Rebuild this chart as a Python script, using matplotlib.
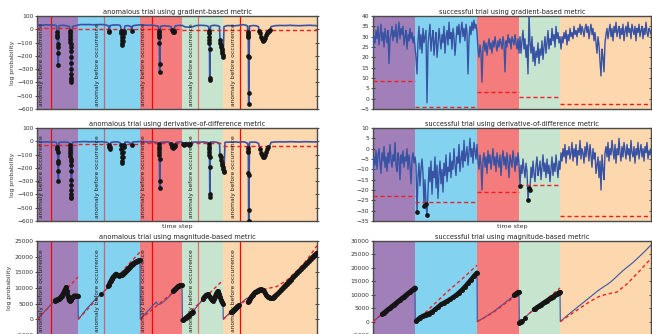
import numpy as np
import matplotlib
matplotlib.use('Agg')
import matplotlib.pyplot as plt
import matplotlib.transforms as mtransforms

# segment edges (time steps) and colours
edges_anom = [0, 41, 103, 145, 186, 280]
edges_succ = [0, 42, 104, 146, 187, 278]
seg_colors = ['#A17FB8', '#83D3F0', '#F47C7C', '#C7E4CF', '#FDD7AE']

# anomaly occurrence lines and label positions (anomalous trial)
occ_x = [14, 67, 115, 161, 203]
occ_alpha = [1.0, 0.5, 1.0, 0.5, 1.0]
label_x = [5, 60, 107, 154, 196]

# ---- anomalous trial, gradient-based metric ----
grad_anom = [
    (0, 30), (3, 33), (6, 31), (9, 34), (12, 32), (15, 33), (18, 30), (19.5, 28),
    (20, -20), (20.2, -40), (20.4, -60), (20.6, -110), (20.8, -130), (21, -180), (21.2, -270),
    (22, 27), (25, 30), (28, 29), (31, 24), (32.5, 20),
    (33, -10), (33.1, -30), (33.2, -50), (33.3, -70), (33.4, -95), (33.5, -110), (33.6, -135),
    (33.7, -165), (33.8, -205), (33.9, -250), (34, -300), (34.1, -335), (34.2, -365), (34.3, -385), (34.4, -400),
    (35.5, 22), (38, 26), (41, 32),
    (44, 36), (48, 35), (52, 36), (56, 34), (60, 35), (64, 36), (67, 35), (70, 30), (71.5, 25),
    (72, -15), (72.3, -20),
    (73, 28), (76, 32), (80, 33), (83, 30), (83.8, 20),
    (84, -10), (84.3, -30), (84.5, -55), (84.7, -80), (84.9, -105), (85.1, -120), (85.5, -90),
    (86, -60), (86.5, -30), (87, -15),
    (88, 25), (91, 28), (94, 20), (94.7, -10), (95.5, 25), (98, 30), (101, 32), (103, 33),
    (106, 33), (110, 30), (114, 31), (118, 28), (121, 25),
    (122, -10), (122.1, -25), (122.2, -40), (122.3, -60), (122.4, -100), (122.5, -260), (122.6, -320),
    (123.5, 22), (127, 27), (131, 24), (134, 20),
    (135, -5), (135.5, -15), (136, -22), (136.5, -20), (137, -10),
    (138, 25), (141, 28), (145, 30),
    (148, 18), (152, 16), (156, 20), (159, 28), (163, 30), (167, 29), (170, 26), (171.5, 20),
    (172, -10), (172.1, -30), (172.2, -55), (172.3, -80), (172.4, -100), (172.5, -150), (172.6, -370), (172.7, -385),
    (173.5, 25), (177, 30), (180, 28), (182.5, 22),
    (183, -80), (183.4, -100), (183.8, -120), (184.2, -135), (184.6, -150), (185, -165), (185.4, -180),
    (185.8, -195), (186.2, -205),
    (187, 20), (190, 28), (194, 27), (198, 26), (202, 30), (206, 35), (209, 30), (210.5, 25),
    (211, -20), (211.1, -35), (211.2, -50), (211.3, -60), (211.4, -200), (211.5, -210), (211.6, -480), (211.7, -560),
    (212.5, 25), (216, 28), (219, 27), (221.5, 20),
    (222, -10), (223, -30), (224, -55), (225, -75), (226, -85), (227, -80), (228, -65), (229, -45),
    (230, -30), (231, -20), (232, -12), (233, -8),
    (234, 20), (238, 27), (243, 29), (248, 28), (253, 30), (258, 28), (263, 27), (268, 29), (273, 30),
    (277, 28), (280, 27),
]
grad_anom_thr = [8, 2, 0, -2, -6]

# ---- anomalous trial, derivative-of-difference metric ----
deriv_anom = [
    (0, -5), (3, -3), (6, -6), (9, -4), (12, -5), (15, -7), (18, -6), (19.5, -10),
    (20, -25), (20.2, -40), (20.4, -60), (20.6, -80), (20.8, -150), (21, -160), (21.2, -220), (21.4, -300),
    (22, -8), (25, -6), (28, -5), (31, -8), (32.5, -15),
    (33, -30), (33.1, -50), (33.2, -70), (33.3, -90), (33.4, -110), (33.5, -130), (33.6, -150), (33.7, -180),
    (33.8, -220), (33.9, -290), (34, -330), (34.1, -370), (34.2, -400), (34.3, -420), (34.4, -430),
    (35.5, -8), (38, -6), (41, -4),
    (44, -3), (48, -2), (52, -4), (56, -3), (60, -5), (64, -3), (67, -4), (70, -8), (71.5, -15),
    (72, -30), (72.4, -45), (72.8, -55), (73.2, -40),
    (74, -8), (77, -5), (80, -4), (83, -10),
    (84, -30), (84.3, -60), (84.5, -90), (84.7, -120), (84.9, -145), (85.1, -160), (85.5, -120),
    (86, -80), (86.5, -45), (87, -30),
    (88, -6), (91, -5), (93.5, -15), (94.5, -25), (95.5, -6), (98, -4), (101, -3), (103, -2),
    (106, -3), (110, -5), (114, -4), (118, -6), (121, -12),
    (122, -20), (122.1, -40), (122.2, -60), (122.3, -80), (122.4, -100), (122.5, -130), (122.6, -300), (122.7, -350),
    (123.5, -8), (127, -6), (131, -5), (133, -10),
    (134, -20), (134.7, -35), (135.4, -45), (136.1, -50), (136.8, -45), (137.5, -35), (138.2, -25),
    (139.5, -8), (142, -5), (145, -6),
    (146, -20), (147, -25), (148, -22), (149.5, -8), (151, -20), (152, -25), (153, -18), (154.5, -8),
    (158, -6), (162, -7), (166, -5), (170, -8), (171.5, -12),
    (172, -20), (172.1, -40), (172.2, -60), (172.3, -80), (172.4, -100), (172.5, -120), (172.6, -190),
    (172.7, -400), (172.8, -420),
    (173.5, -6), (177, -5), (180, -8), (182.5, -15),
    (183, -100), (183.5, -120), (184, -140), (184.5, -160), (185, -175), (185.5, -190), (186, -205),
    (186.5, -220), (187, -230),
    (188, -8), (191, -6), (195, -7), (199, -5), (202, -8), (205, -4), (208, -6), (210.5, -15),
    (211, -30), (211.1, -50), (211.2, -70), (211.3, -80), (211.4, -240), (211.5, -250), (211.6, -520), (211.7, -600),
    (212.5, -8), (216, -6), (219, -7), (221.5, -15),
    (222, -30), (223, -60), (224, -85), (225, -105), (226, -118), (227, -115), (228, -100), (229, -80),
    (230, -60), (231, -45), (232, -35), (233, -30),
    (234, -8), (238, -5), (243, -4), (248, -5), (253, -3), (258, -4), (263, -5), (268, -3), (273, -4),
    (277, -5), (280, -4),
]
deriv_anom_thr = [-25, -20, -15, -15, -35]

# ---- anomalous trial, magnitude-based metric ----
mag_anom = [
    (0, 0), (6, 2000), (12, 4000), (17, 5800),
    (18, 6000), (19, 6200), (20, 6300), (21, 6500), (22, 6400), (23, 6800), (24, 7200), (25, 7600),
    (26, 8200), (27, 8800), (28, 9500), (29, 10200), (30, 9000), (31, 7500), (32, 6200), (33, 5800),
    (34, 6200), (35, 6800), (36, 7200), (37, 7500), (38, 7600), (39, 7400), (40, 7500), (41, 7500),
    (41.3, 0), (45, 1500), (50, 3500), (55, 5200), (60, 7000), (64, 8000), (66, 8600), (69, 9500),
    (71, 10500), (72, 11000), (73, 11800), (74, 12300), (75, 13000), (76, 13500), (77, 13800), (78, 14200),
    (79, 14500), (80, 14300), (81, 14000), (82, 13800), (83, 14000), (84, 14200), (85, 14300), (86, 14500),
    (87, 14800), (88, 15200), (89, 15500), (90, 15800), (91, 16200), (92, 16500), (93, 16800), (94, 17200),
    (95, 17500), (96, 17800), (97, 18000), (98, 18200), (99, 18400), (100, 18500), (101, 18700),
    (102, 18800), (103, 18900),
    (103.3, 0), (108, 1700), (113, 3400), (119, 5500), (121, 4700), (124, 5000), (128, 6000), (132, 7200),
    (135, 8200), (136, 9000), (137, 9300), (138, 9600), (139, 9900), (140, 10200), (141, 10500),
    (142, 10700), (143, 10800), (144, 10900), (145, 10900),
    (145.5, -300), (147, 0), (148.5, 400), (150, 800), (151.5, 1200), (153, 1600), (154.5, 2000), (156, 2400),
    (158, 3300), (161, 4500), (164, 5600),
    (166, 6500), (167, 7000), (168, 7400), (169, 7700), (170, 7900), (171, 8000), (172, 7600), (173, 7000),
    (174, 6500), (175, 6100), (176, 6000), (177, 6500), (178, 7200), (179, 8000), (180, 8600), (181, 9000),
    (182, 8200), (183, 7200), (184, 6200), (185, 5400), (186, 5000),
    (186.3, 0), (188, 600), (191, 1500), (193, 2000),
    (194, 2200), (195, 2500), (196, 2800), (197, 3100), (198, 3400), (199, 3700), (200, 4000), (201, 4300),
    (202, 4500), (204, 5200), (207, 6000), (209, 6500), (210, 6800),
    (211, 5500), (212, 6000), (213, 6600), (214, 7100), (215, 7500), (216, 7900), (217, 8300), (218, 8600),
    (219, 8800), (220, 9000), (221, 9200), (222, 9400), (223, 9500), (224, 9600), (225, 9500), (226, 9300),
    (227, 8900), (228, 8400), (229, 7900), (230, 7500), (231, 7200), (232, 7000), (233, 6800), (234, 6700),
    (235, 6700), (236, 6900), (237, 7200), (238, 7500), (240, 8000), (242, 8600), (244, 9300), (246, 10000),
    (248, 10700), (250, 11400), (252, 12000), (254, 12700), (256, 13400), (258, 14000), (260, 14700),
    (262, 15300), (264, 16000), (266, 16600), (268, 17300), (270, 17900), (272, 18600), (274, 19300),
    (276, 20000), (278, 20600), (280, 21200),
]
mag_anom_spans = [(18, 41), (64, 64), (71, 103), (136, 145), (145.5, 156), (166, 186), (194, 202), (211, 280)]
mag_anom_thr = [
    [(0, 0), (41, 13500)],
    [(41.3, 0), (103, 21500)],
    [(103.3, 0), (145, 11000)],
    [(145.5, 0), (186, 12500)],
    [(186.3, 0), (193, 2000), (210, 6500), (226, 9500), (240, 10500), (250, 12500), (260, 15500),
     (270, 19000), (280, 23500)],
]

# ---- successful trial, gradient-based metric (one value per time step) ----
succ_step = np.arange(279)
grad_succ = (
    [22, 30, 27, 33, 29, 35, 26, 31, 36, 28, 32, 25, 34, 30, 27, 33, 17, 29, 31, 35, 28, 33, 30, 36,
     27, 32, 37, 29, 34, 31, 35, 26, 30, 33, 24, 31, 28, 34, 29, 32, 27, 30, 25]
    + [20, 12, 28, 35, 24, 31, 22, 34, 27, 30, 33, -2, 26, 31, 36, 23, 29, 33, 21, 28, 32, 20, 26, 34,
       29, 24, 31, 27, 35, 22, 30, 33, 26, 37, 29, 32, 24, 34, 30, 21, 28, 35, 31, 36, 27, 33, 37, 30,
       34, 28, 36, 32, 12, 29, 35, 31, 37, 33, 38, 34, 36, 32]
    + [24, 20, 26, 22, 8, 25, 28, 23, 27, 21, 26, 29, 24, 27, 22, 28, 25, 30, 26, 23, 28, 25, 29, 27,
       24, 30, 26, 13, 28, 25, 31, 27, 29, 24, 30, 28, 26, 31, 27, 24, 29, 22]
    + [30, 22, 28, 33, 24, 29, 20, 26, 12, 41, 27, 22, 30, 18, 25, 16, 23, 20, 27, 17, 24, 21, 28, 19,
       25, 30, 22, 27, 33, 24, 29, 26, 34, 28, 31, 25, 35, 29, 32, 27, 30]
    + [24, 30, 27, 32, 29, 33, 26, 31, 28, 34, 30, 32, 29, 35, 31, 33, 30, 34, 32, 36, 31, 35, 33, 30,
       34, 36, 32, 35, 29, 33, 36, 31, 34, 28, 32, 27, 22, 30, 26, 18, 11, 24, 20, 13, 27, 31, 34, 29,
       33, 36, 30, 34, 28, 35, 32, 37, 30, 33, 35, 29, 34, 31, 36, 28, 33, 35, 30, 37, 32, 34, 29, 36,
       33, 31, 35, 28, 34, 32, 36, 30, 33, 35, 29, 34, 31, 37, 32, 30, 34, 33, 31]
)
grad_succ_thr = [8.5, -3.8, 3, 1, -2.7]

# ---- successful trial, derivative-of-difference metric ----
deriv_succ = (
    [-13, -4, -8, -1, -10, -3, 0, -7, -12, -2, -6, 1, -9, -4, -11, -2, -7, 2, -5, -9, -3, -6, 3, -8,
     -11, -2, -5, -15, -3, -7, -1, -9, -4, -6, 0, -10, -3, -8, -17, -5, -2, -7, -4]
    + [-8, -30.5, -14, -7, -18, -10, -5, -12, -27.5, -15, -27, -32, -20, -9, -16, -6, -22, -11, -14, -4,
       -19, -8, -24, -12, -6, -17, -10, -21, -7, -13, -3, -16, -9, -11, -2, -14, -6, -10, 0, -8, -13, -4,
       -7, 2, -11, -5, -1, -9, 4, -6, -3, 1, -8, -2, 5, -4, 0, -7, 3, -1, -5, 2]
    + [-6, -10, -3, -8, -20, -5, -2, -9, -4, -12, -1, -7, -3, -10, -5, 0, -8, -4, -11, -2, -6, -9, -3,
       -13, -5, -1, -8, -4, -10, -2, -7, -14, -3, -6, -9, -1, -5, -11, -4, -8, -2, -7]
    + [-18, -8, -12, -5, -10, -14, -7, -11, -25, -19, -20, -9, -14, -6, -12, -16, -8, -4, -13, -10, -6,
       -15, -9, -3, -11, -7, -14, -5, -12, -8, -16, -10, -4, -13, -7, -11, -3, -9, -14, -6, -10]
    + [-2, -6, 0, -4, 2, -7, -1, -3, 1, -5, -2, 3, -6, 0, -4, 2, -8, -1, -3, 4, -5, 0, -2, -7, 1, -4, 3,
       -1, -6, 2, -3, -9, 0, -5, -2, -12, -8, -4, -14, -6, -20, -3, -10, -15, -2, 1, -4, 3, -6, 0, -3, 4,
       -1, -5, 2, -7, 0, -3, 5, -2, -6, 1, -4, 3, -1, -5, 2, -3, 0, -6, 4, -2, -4, 1, -7, 0, -3, 3, -5,
       -1, 2, -4, 0, -6, 1, -2, 3, -5, -1, -3, 0]
)
deriv_succ_thr = [-23, -26, -21, -17.5, -32.5]

# ---- successful trial, magnitude-based metric ----
mag_succ = [
    (0, 0), (4, 1200), (8, 2500),
    (9, 2700), (11, 3300), (13, 3900), (15, 4500), (17, 5100), (19, 5700), (21, 6300), (23, 6900),
    (25, 7500), (27, 8100), (29, 8700), (31, 9300), (33, 9900), (35, 10500), (37, 11100), (39, 11700),
    (41, 12300), (42, 12600),
    (42.3, 0), (43, 200), (45, 800), (47, 1500), (50, 2100), (53, 2600), (56, 3000), (59, 3600), (62, 4500),
    (65, 5400), (68, 6400), (71, 7000), (74, 7600), (77, 8300), (80, 9000), (83, 9800), (86, 10800),
    (89, 11800), (92, 13000), (95, 14300), (98, 15600), (101, 17000), (104, 18200),
    (104.3, 0), (110, 1200), (115, 2400), (120, 3600), (125, 5000), (130, 6400), (135, 7900), (140, 9300),
    (141, 9800), (142, 10100), (143, 10400), (144, 10700), (145, 10900), (146, 11000),
    (146.3, -500), (147.5, -100), (148.5, 100), (152, 1500), (155, 2600), (158, 3600), (161, 4500),
    (162, 4800), (164, 5300), (166, 5800), (168, 6300), (170, 6800), (172, 7300), (174, 7800), (176, 8300),
    (178, 8800), (180, 9300), (182, 9800), (184, 10300), (186, 10800), (187, 11000),
    (187.3, 0), (195, 2500), (205, 5500), (215, 8500), (225, 11500), (230, 12800), (235, 14000),
    (240, 15500), (250, 19000), (260, 22000), (270, 25500), (278, 28500),
]
mag_succ_spans = [(9, 42), (43, 104), (141, 146), (146.3, 148.5), (152, 152), (161, 187)]
mag_succ_thr = [
    [(0, 0), (42, 13000)],
    [(43, 0), (57, 5000), (74, 11000), (91, 16500), (104, 21000)],
    [(104.3, 0), (120, 3300), (135, 7500), (146, 10200)],
    [(146.5, 0), (187, 12500)],
    [(187.3, 0), (197, 2500), (207, 5000), (217, 7500), (227, 9500), (235, 10300), (244, 11000),
     (254, 14000), (267, 19000), (278, 23500)],
]

BLUE = '#3953A4'
DOT = '#151515'
TXT = '#333333'

W, H = 652, 334
fig = plt.figure(figsize=(W / 100, H / 100), dpi=100)


def px_axes(x0, y0, x1, y1):
    return fig.add_axes([x0 / W, 1 - y1 / H, (x1 - x0) / W, (y1 - y0) / H])


def setup(ax, edges, title, ylim, yticks, ylabel=False, xlabel=False, occ=False):
    for i in range(5):
        ax.axvspan(edges[i], edges[i + 1], color=seg_colors[i], lw=0, zorder=0)
    ax.set_xlim(edges[0], edges[-1])
    ax.set_ylim(*ylim)
    ax.set_yticks(yticks)
    ax.set_xticks([])
    ax.tick_params(axis='y', labelsize=4.3, length=2.5, width=0.6, direction='inout',
                   left=True, right=True, pad=1.5, colors=TXT)
    for sp in ax.spines.values():
        sp.set_linewidth(1.0)
        sp.set_color('#4a4a4a')
    ax.set_title(title, fontsize=4.8, pad=1.8, color='#222222')
    if ylabel:
        ax.set_ylabel('log probability', fontsize=4.4, labelpad=1, color=TXT)
    if xlabel:
        ax.set_xlabel('time step', fontsize=4.6, labelpad=2, color=TXT)
    if occ:
        trans = mtransforms.blended_transform_factory(ax.transData, ax.transAxes)
        for xo, a in zip(occ_x, occ_alpha):
            ax.axvline(xo, color='#FF0000', lw=0.9, alpha=a, zorder=1)
        for xl in label_x:
            ax.text(xl, 0.03, 'anomaly before occurrence', transform=trans, rotation=90,
                    ha='center', va='bottom', fontsize=4.3, color='#1c1c1c', zorder=6)


def thr_panel(ax, edges, x, y, thr, lw=1.2):
    x = np.asarray(x, float)
    y = np.asarray(y, float)
    seg = np.clip(np.searchsorted(edges, x, side='right') - 1, 0, 4)
    limit = np.asarray(thr)[seg]
    ax.plot(x, y, color=BLUE, lw=lw, zorder=3)
    for i in range(5):
        ax.hlines(thr[i], edges[i], edges[i + 1], colors='#EE2020', linestyles=(0, (3, 2)),
                  lw=1.0, zorder=4)
    m = y < limit
    ax.plot(x[m], y[m], 'o', color=DOT, ms=3.4, mew=0, zorder=5)


def mag_panel(ax, pts, spans, thr_lines):
    x = np.array([p[0] for p in pts], float)
    y = np.array([p[1] for p in pts], float)
    ax.plot(x, y, color=BLUE, lw=0.8, zorder=3)
    for seg in thr_lines:
        ax.plot([p[0] for p in seg], [p[1] for p in seg], color='#EE2020',
                ls=(0, (2.5, 2)), lw=1.0, zorder=4)
    for lo, hi in spans:
        m = (x >= lo) & (x <= hi)
        ax.plot(x[m], y[m], color=DOT, lw=3.2, solid_capstyle='round', zorder=5)
        ax.plot(x[m], y[m], 'o', color=DOT, ms=3.6, mew=0, zorder=5)


L = (37, 317)
R = (373, 651)
rows = [(16, 109), (128, 221), (241, 335)]

# row 1
ax = px_axes(L[0], rows[0][0], L[1], rows[0][1])
setup(ax, edges_anom, 'anomalous trial using gradient-based metric', (-600, 100),
      range(-600, 101, 100), ylabel=True, occ=True)
thr_panel(ax, edges_anom, [p[0] for p in grad_anom], [p[1] for p in grad_anom], grad_anom_thr)

ax = px_axes(R[0], rows[0][0], R[1], rows[0][1])
setup(ax, edges_succ, 'successful trial using gradient-based metric', (-5, 40), range(-5, 41, 5))
thr_panel(ax, edges_succ, succ_step, grad_succ, grad_succ_thr, lw=1.0)

# row 2
ax = px_axes(L[0], rows[1][0], L[1], rows[1][1])
setup(ax, edges_anom, 'anomalous trial using derivative-of-difference metric', (-600, 100),
      range(-600, 101, 100), ylabel=True, xlabel=True, occ=True)
thr_panel(ax, edges_anom, [p[0] for p in deriv_anom], [p[1] for p in deriv_anom], deriv_anom_thr)

ax = px_axes(R[0], rows[1][0], R[1], rows[1][1])
setup(ax, edges_succ, 'successful trial using derivative-of-difference metric', (-35, 10),
      range(-35, 11, 5), xlabel=True)
thr_panel(ax, edges_succ, succ_step, deriv_succ, deriv_succ_thr, lw=1.0)

# row 3
ax = px_axes(L[0], rows[2][0], L[1], rows[2][1])
setup(ax, edges_anom, 'anomalous trial using magnitude-based metric', (-5000, 25000),
      range(-5000, 25001, 5000), ylabel=True, occ=True)
mag_panel(ax, mag_anom, mag_anom_spans, mag_anom_thr)

ax = px_axes(R[0], rows[2][0], R[1], rows[2][1])
setup(ax, edges_succ, 'successful trial using magnitude-based metric', (-5000, 30000),
      range(-5000, 30001, 5000))
mag_panel(ax, mag_succ, mag_succ_spans, mag_succ_thr)

fig.savefig('out.png', dpi=100)
